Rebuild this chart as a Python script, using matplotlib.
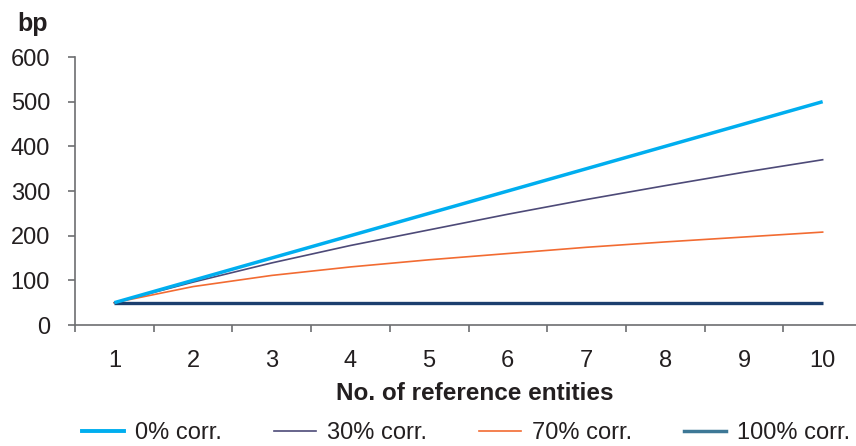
import matplotlib
matplotlib.use('Agg')
import matplotlib.pyplot as plt
from matplotlib.lines import Line2D
import numpy as np

plt.rcParams['font.family'] = ['Liberation Sans', 'DejaVu Sans']

# spread (bp) by number of reference entities, per correlation level
entities = [1, 2, 3, 4, 5, 6, 7, 8, 9, 10]
corr_0 = [50, 100, 150, 200, 250, 300, 350, 400, 450, 500]
corr_30 = [50, 96, 139, 178, 213, 248, 281, 312, 342, 370]
corr_70 = [50, 86, 111, 130, 146, 160, 174, 186, 197, 208]
corr_100 = [50, 50, 50, 50, 50, 50, 50, 50, 50, 50]

series_labels = ['0% corr.', '30% corr.', '70% corr.', '100% corr.']
y_ticks = [0, 100, 200, 300, 400, 500, 600]

text_col = '#231F20'
axis_col = '#6D6E71'

fig = plt.figure(figsize=(8.56, 4.46), dpi=100)
ax = fig.add_axes([75 / 856, 121 / 446, 787 / 856, 268 / 446])

ax.plot(entities, corr_100, color='#1C3F6E', lw=2.4, solid_capstyle='butt', zorder=2)
ax.plot(entities, corr_70, color='#F26B32', lw=1.2, zorder=3)
ax.plot(entities, corr_30, color='#4D4A78', lw=1.2, zorder=4)
ax.plot(entities, corr_0, color='#00AEEF', lw=2.5, solid_capstyle='butt', zorder=5)

ax.set_xlim(0.5, 10.5)
ax.set_ylim(0, 600)
ax.set_yticks(y_ticks)
ax.set_xticks(entities)
ax.set_xticks(np.arange(0.5, 11, 1.0), minor=True)

for side in ['top', 'right']:
    ax.spines[side].set_visible(False)
for side in ['left', 'bottom']:
    ax.spines[side].set_color(axis_col)
    ax.spines[side].set_linewidth(1.2)

ax.tick_params(axis='y', length=5, width=1.2, color=axis_col, pad=13,
               labelsize=17, labelcolor=text_col)
ax.tick_params(axis='x', which='major', length=0, pad=18,
               labelsize=17, labelcolor=text_col)
ax.tick_params(axis='x', which='minor', length=5, width=1.2, color=axis_col)

fig.text(17 / 856, 1 - 24 / 446, 'bp', fontsize=18, fontweight='bold',
         color=text_col, ha='left', va='center')
fig.text(475 / 856, 1 - 393 / 446, 'No. of reference entities', fontsize=17.5,
         fontweight='bold', color=text_col, ha='center', va='center')

handles = [
    Line2D([], [], color='#00AEEF', lw=2.8),
    Line2D([], [], color='#4D4A78', lw=1.2),
    Line2D([], [], color='#F26B32', lw=1.2),
    Line2D([], [], color='#3D7896', lw=2.5),
]
fig.legend(handles, series_labels, loc='center', bbox_to_anchor=(466 / 856, 1 - 433 / 446),
           ncol=4, frameon=False, fontsize=17, handlelength=1.8, handletextpad=0.45,
           columnspacing=2.2, labelcolor=text_col, borderpad=0, borderaxespad=0)

fig.savefig('out.png', dpi=100)
